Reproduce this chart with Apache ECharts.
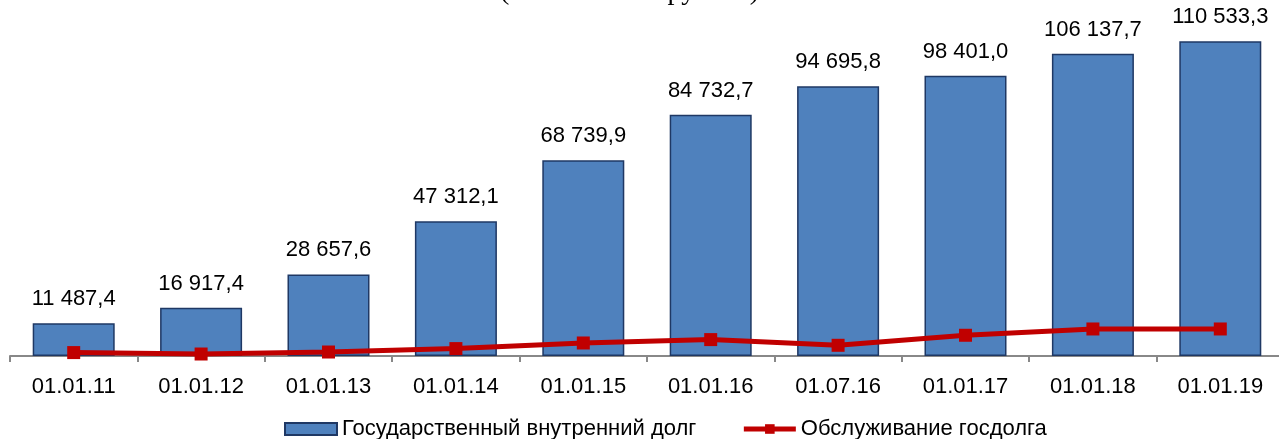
<!DOCTYPE html>
<html><head><meta charset="utf-8">
<script src="https://cdn.jsdelivr.net/npm/echarts@6/dist/echarts.min.js"></script>
<style>html,body{margin:0;padding:0;background:#fff;overflow:hidden}#c{width:1284px;height:439px}</style>
</head><body><div id="c"></div>
<script>
const categories = ['01.01.11','01.01.12','01.01.13','01.01.14','01.01.15','01.01.16','01.07.16','01.01.17','01.01.18','01.01.19'];
const debtValues = [11487.4, 16917.4, 28657.6, 47312.1, 68739.9, 84732.7, 94695.8, 98401.0, 106137.7, 110533.3];
const serviceValues = [1200, 700, 1400, 2600, 4570, 5760, 3760, 7280, 9490, 9490];
const seriesNames = ['Государственный внутренний долг', 'Обслуживание госдолга'];
const titleText = '(в миллионах рублей)';

function fmt(v){
  const s = v.toFixed(1).split('.');
  return s[0].replace(/\B(?=(\d{3})+(?!\d))/g, ' ') + ',' + s[1];
}
const chart = echarts.init(document.getElementById('c'));
chart.setOption({
  animation:false,
  textStyle:{fontFamily:'Liberation Sans, Arial, sans-serif'},
  graphic:[{type:'text', left:500, top:-22, style:{text:titleText, font:'28px "Liberation Serif", serif', fill:'#000'}}],
  grid:{left:10, top:0, right:0, height:356},
  legend:{top:413, left:279, itemWidth:52, itemHeight:12, itemGap:45,
    textStyle:{fontSize:22, color:'#000', fontFamily:'Liberation Sans, Arial, sans-serif'},
    data:[{name:seriesNames[0], icon:'rect'}, {name:seriesNames[1], lineStyle:{width:5}}]},
  xAxis:{type:'category', data:categories,
    axisLine:{lineStyle:{color:'#888', width:2}},
    axisTick:{show:true, length:6, lineStyle:{color:'#888', width:2}},
    axisLabel:{fontSize:22, color:'#000', margin:20}},
  yAxis:{type:'value', min:0, max:125000, show:false, splitLine:{show:false}},
  series:[
    {name:seriesNames[0], type:'bar', data:debtValues, barWidth:82,
     itemStyle:{color:'#4F81BD', borderColor:'#1F3864', borderWidth:1.5},
     label:{show:true, position:'top', distance:13, fontSize:22, color:'#000', formatter:p=>fmt(p.value)}},
    {name:seriesNames[1], type:'line', data:serviceValues, symbol:'rect', symbolSize:13,
     lineStyle:{color:'#C00000', width:5}, itemStyle:{color:'#C00000'}, z:5}
  ]
});
</script></body></html>
